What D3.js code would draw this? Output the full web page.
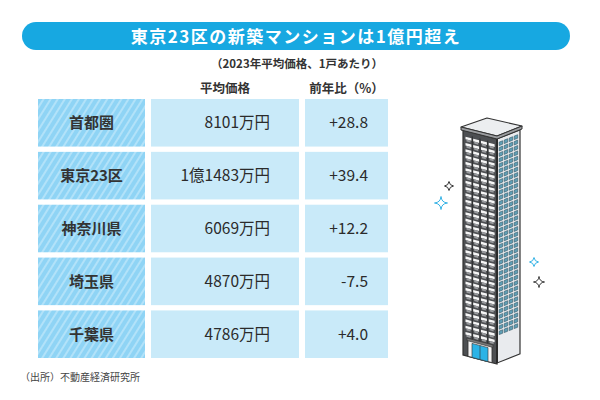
<!DOCTYPE html>
<meta charset="utf-8">
<style>
body { margin: 0; background: #fff; }
svg text { font-family: "Noto Sans CJK JP", "Noto Sans", sans-serif; fill: #333; }
</style>
<body>
<div id="chart"></div>
</body>
<script src="https://d3js.org/d3.v7.min.js"></script>
<script>
// data
var title = "東京23区の新築マンションは1億円超え";
var subtitle = "（2023年平均価格、1戸あたり）";
var headers = ["平均価格", "前年比（%）"];
var regions = ["首都圏", "東京23区", "神奈川県", "埼玉県", "千葉県"];
var prices = ["8101万円", "1億1483万円", "6069万円", "4870万円", "4786万円"];
var changes = ["+28.8", "+39.4", "+12.2", "-7.5", "+4.0"];
var source = "（出所）不動産経済研究所";

var width = 600, height = 400;

var svg = d3.select("#chart").append("svg")
	.attr("width", width)
	.attr("height", height);

// hatching for the region column
var defs = svg.append("defs");
var pat = defs.append("pattern")
	.attr("id", "hatch")
	.attr("patternUnits", "userSpaceOnUse")
	.attr("width", 6).attr("height", 6)
	.attr("patternTransform", "rotate(32)");
pat.append("rect").attr("width", 6).attr("height", 6).attr("fill", "#8fd4f5");
pat.append("rect").attr("width", 2).attr("height", 6).attr("fill", "#b2e2f9");

// title bar
svg.append("rect")
	.attr("x", 22).attr("y", 22)
	.attr("width", 548).attr("height", 28)
	.attr("rx", 14)
	.attr("fill", "#17a8e1");

svg.append("text")
	.attr("x", 296).attr("y", 42.5)
	.attr("text-anchor", "middle")
	.style("font-size", "17px")
	.style("font-weight", "bold")
	.style("letter-spacing", "1.5px")
	.style("fill", "#fff")
	.text(title);

svg.append("text")
	.attr("x", 297).attr("y", 68)
	.attr("text-anchor", "middle")
	.style("font-size", "11.5px")
	.style("font-weight", "bold")
	.text(subtitle);

// table layout
var y = d3.scaleBand()
	.domain(regions)
	.range([99, 358])
	.paddingInner(0.1);

var cols = [
	{ x0: 38, x1: 145 },
	{ x0: 151, x1: 299 },
	{ x0: 305, x1: 388 }
];

svg.selectAll(".head")
	.data(headers)
	.enter().append("text")
	.attr("class", "head")
	.attr("x", function(d, i) { return (cols[i + 1].x0 + cols[i + 1].x1) / 2; })
	.attr("y", 93)
	.attr("text-anchor", "middle")
	.style("font-size", "12.5px")
	.style("font-weight", "bold")
	.text(function(d) { return d; });

var row = svg.selectAll(".row")
	.data(regions)
	.enter().append("g")
	.attr("class", "row")
	.attr("transform", function(d) { return "translate(0," + y(d) + ")"; });

row.append("rect")
	.attr("x", cols[0].x0).attr("width", cols[0].x1 - cols[0].x0)
	.attr("height", y.bandwidth())
	.attr("fill", "url(#hatch)");

row.append("rect")
	.attr("x", cols[1].x0).attr("width", cols[1].x1 - cols[1].x0)
	.attr("height", y.bandwidth())
	.attr("fill", "#c9eaf9");

row.append("rect")
	.attr("x", cols[2].x0).attr("width", cols[2].x1 - cols[2].x0)
	.attr("height", y.bandwidth())
	.attr("fill", "#c9eaf9");

row.append("text")
	.attr("x", (cols[0].x0 + cols[0].x1) / 2)
	.attr("y", y.bandwidth() / 2 + 5.5)
	.attr("text-anchor", "middle")
	.style("font-size", "15px")
	.style("font-weight", "bold")
	.text(function(d) { return d; });

row.append("text")
	.attr("x", 270)
	.attr("y", y.bandwidth() / 2 + 5.5)
	.attr("text-anchor", "end")
	.style("font-size", "15.5px")
	.style("fill", "#2b2b2b")
	.text(function(d, i) { return prices[i]; });

row.append("text")
	.attr("x", 368)
	.attr("y", y.bandwidth() / 2 + 5.5)
	.attr("text-anchor", "end")
	.style("font-size", "15.5px")
	.style("fill", "#2b2b2b")
	.text(function(d, i) { return changes[i]; });

svg.append("text")
	.attr("x", 20).attr("y", 381)
	.style("font-size", "10px")
	.style("fill", "#444")
	.text(source);

//*********************************************************************
// tower illustration
var b = svg.append("g").attr("class", "tower");
var ink = "#333";

// left face
var lf = b.append("g").attr("transform", "matrix(1,0.265,0,1,463,130)");
lf.append("rect").attr("width", 34).attr("height", 225)
	.attr("fill", "#4d4f52").attr("stroke", ink).attr("stroke-width", 1.2);
for (var r = 0; r < 32; r++) {
	for (var c = 0; c < 4; c++) {
		lf.append("rect")
			.attr("x", 2.5 + c * 7.7).attr("y", 6 + r * 6.3)
			.attr("width", 6).attr("height", 2.6)
			.attr("fill", "#f6f6f6");
		lf.append("rect")
			.attr("x", 3.5 + c * 7.7).attr("y", 8.6 + r * 6.3)
			.attr("width", 4).attr("height", 2)
			.attr("fill", "#9a9c9f");
	}
}
for (var c = 1; c < 4; c++) {
	lf.append("line")
		.attr("x1", 1.6 + c * 7.7).attr("x2", 1.6 + c * 7.7)
		.attr("y1", 4).attr("y2", 210)
		.attr("stroke", "#2c2d2f").attr("stroke-width", 1);
}
// entrance
lf.append("rect").attr("x", 5).attr("y", 208).attr("width", 24).attr("height", 17)
	.attr("fill", "#f4f4f4").attr("stroke", ink).attr("stroke-width", 0.8);
lf.append("rect").attr("x", 4).attr("y", 207).attr("width", 26).attr("height", 2.5)
	.attr("fill", "#777").attr("stroke", ink).attr("stroke-width", 0.6);
lf.append("rect").attr("x", 9).attr("y", 211).attr("width", 16).attr("height", 14)
	.attr("fill", "#2bb3e6").attr("stroke", ink).attr("stroke-width", 0.6);
lf.append("line").attr("x1", 17).attr("x2", 17).attr("y1", 211).attr("y2", 225)
	.attr("stroke", ink).attr("stroke-width", 0.6);

// right face
var rf = b.append("g").attr("transform", "matrix(1,-0.4,0,1,497,139)");
rf.append("rect").attr("width", 23).attr("height", 224)
	.attr("fill", "#e9ebee").attr("stroke", ink).attr("stroke-width", 1.2);
for (var r = 0; r < 36; r++) {
	for (var c = 0; c < 4; c++) {
		rf.append("rect")
			.attr("x", 2.2 + c * 5).attr("y", 4 + r * 5.4)
			.attr("width", 3.5).attr("height", 3.5)
			.attr("fill", "#5f9fb6").attr("stroke", "#2f4f5c").attr("stroke-width", 0.5);
	}
}

// corner edge
b.append("line").attr("x1", 497).attr("y1", 139).attr("x2", 497).attr("y2", 363)
	.attr("stroke", "#2a2a2a").attr("stroke-width", 2);

// roof
b.append("path")
	.attr("d", "M461,127 L487,118 L522,126 L497,136 Z")
	.attr("fill", "#eceef0").attr("stroke", ink).attr("stroke-width", 1.2)
	.attr("stroke-linejoin", "round");
b.append("path")
	.attr("d", "M461,127 L497,136 L522,126 L522,129 L497,139 L461,130 Z")
	.attr("fill", "#9a9c9f").attr("stroke", ink).attr("stroke-width", 1)
	.attr("stroke-linejoin", "round");

// sparkles
var sparkles = [
	{ x: 449, y: 186, s: 4.5, c: "#333" },
	{ x: 441, y: 203, s: 6.5, c: "#35b3e6" },
	{ x: 534, y: 262, s: 4.5, c: "#35b3e6" },
	{ x: 539, y: 282, s: 5.5, c: "#333" }
];
sparkles.forEach(function(p) {
	var g = b.append("g").attr("transform", "translate(" + p.x + "," + p.y + ")");
	g.append("path")
		.attr("d", "M0," + (-p.s) + " Q0.5,-0.5 " + p.s + ",0 Q0.5,0.5 0," + p.s +
			" Q-0.5,0.5 " + (-p.s) + ",0 Q-0.5,-0.5 0," + (-p.s) + " Z")
		.attr("fill", "none").attr("stroke", p.c).attr("stroke-width", 1);
});
</script>
